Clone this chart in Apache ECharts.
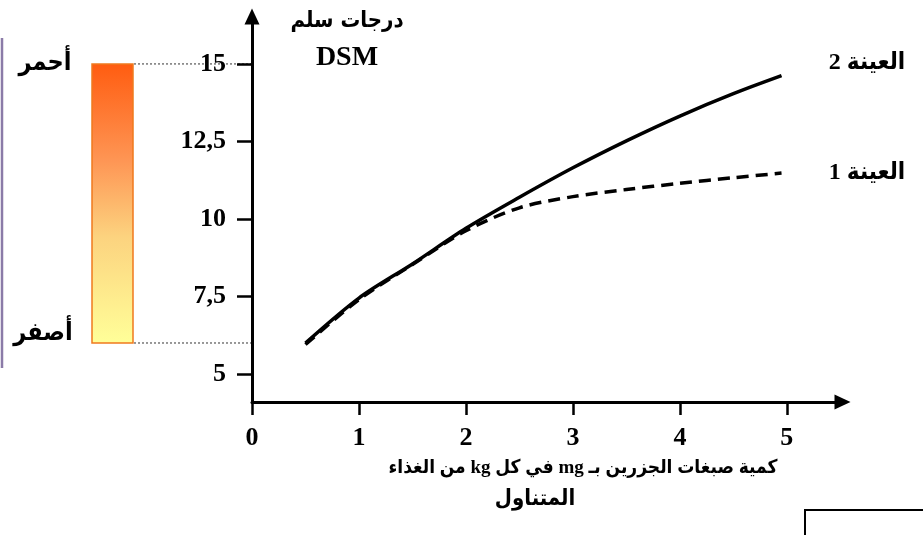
<!DOCTYPE html>
<html>
<head>
<meta charset="utf-8">
<script src="https://cdn.jsdelivr.net/npm/echarts@6/dist/echarts.min.js"></script>
<style>
  html, body { margin: 0; padding: 0; background: #fff; }
  #chart { width: 923px; height: 535px; direction: rtl; }
</style>
</head>
<body>
<div id="chart" dir="rtl"></div>
<script>
// data
const doseMg = [0.5, 1, 1.5, 2, 2.5, 3, 3.5, 4, 4.5, 4.95];
const sample2 = [6.0, 7.45, 8.55, 9.7, 10.7, 11.65, 12.52, 13.32, 14.04, 14.62];
const sample1 = [5.95, 7.4, 8.53, 9.62, 10.36, 10.72, 10.95, 11.15, 11.33, 11.48];
const xTicks = [0, 1, 2, 3, 4, 5];
const yTicks = [5, 7.5, 10, 12.5, 15];
const scaleEnds = [15, 6];            // red end, yellow end of the colour scale
const scaleNames = ['أحمر', 'أصفر'];
const seriesNames = ['العينة 2', 'العينة 1'];

const serif = "'Liberation Serif', 'DejaVu Sans Condensed'";
const arabic = "'DejaVu Sans Condensed', 'DejaVu Sans'";

const chart = echarts.init(document.getElementById('chart'));

chart.setOption({
  animation: false,
  grid: { left: 252, right: 80.5, top: 16.5, bottom: 133 },
  xAxis: {
    type: 'value',
    min: 0,
    max: 5.52,
    splitLine: { show: false },
    axisLine: { lineStyle: { color: '#000', width: 3 }, symbol: ['none', 'triangle'], symbolSize: [15, 16] },
    axisTick: { customValues: xTicks, length: 13, lineStyle: { color: '#000', width: 2.5 } },
    axisLabel: {
      customValues: xTicks, margin: 23, color: '#000',
      fontFamily: serif, fontWeight: 'bold', fontSize: 26
    }
  },
  yAxis: {
    type: 'value',
    min: 4.097,
    max: 16.53,
    splitLine: { show: false },
    axisLine: { lineStyle: { color: '#000', width: 3 }, symbol: ['none', 'triangle'], symbolSize: [15, 16] },
    axisTick: { customValues: yTicks, length: 15, lineStyle: { color: '#000', width: 2.5 } },
    axisLabel: {
      customValues: yTicks, margin: 26, color: '#000',
      fontFamily: serif, fontWeight: 'bold', fontSize: 26,
      formatter: v => String(v).replace('.', ',')
    }
  },
  series: [
    {
      name: seriesNames[0], type: 'line', smooth: 0.3, showSymbol: false,
      data: doseMg.map((x, i) => [x, sample2[i]]),
      lineStyle: { color: '#000', width: 3.5 }
    },
    {
      name: seriesNames[1], type: 'line', smooth: 0.3, showSymbol: false,
      data: doseMg.map((x, i) => [x, sample1[i]]),
      lineStyle: { color: '#000', width: 3.5, type: [12, 7] }
    }
  ]
});

// colour scale beside the y axis, tied to the axis values
const yTop = chart.convertToPixel({ yAxisIndex: 0 }, scaleEnds[0]);
const yBot = chart.convertToPixel({ yAxisIndex: 0 }, scaleEnds[1]);
const axisX = chart.convertToPixel({ xAxisIndex: 0 }, 0);

const boldText = (x, y, text, size, font) => ({
  type: 'text', x: x, y: y,
  style: { text: text, fill: '#000', font: 'bold ' + size + 'px ' + font, align: 'center', verticalAlign: 'middle' }
});

chart.setOption({
  graphic: [
    { type: 'line', shape: { x1: 2, y1: 38, x2: 2, y2: 368 }, style: { stroke: '#8B7BA8', lineWidth: 2.5 } },
    {
      type: 'rect', shape: { x: 92, y: yTop, width: 41, height: yBot - yTop },
      style: {
        fill: new echarts.graphic.LinearGradient(0, 0, 0, 1, [
          { offset: 0, color: '#FF5C10' },
          { offset: 0.35, color: '#FE9655' },
          { offset: 0.62, color: '#FCD37F' },
          { offset: 1, color: '#FFFF99' }
        ]),
        stroke: '#F07A1E', lineWidth: 1.5
      }
    },
    { type: 'line', shape: { x1: 134, y1: yTop, x2: axisX, y2: yTop }, style: { stroke: '#333', lineWidth: 1, lineDash: [2, 2] } },
    { type: 'line', shape: { x1: 134, y1: yBot, x2: axisX, y2: yBot }, style: { stroke: '#333', lineWidth: 1, lineDash: [2, 2] } },
    boldText(45, 63, scaleNames[0], 25, arabic),
    boldText(43, 333, scaleNames[1], 25, arabic),
    boldText(347, 21, 'درجات سلم', 22, arabic),
    boldText(347, 58, 'DSM', 28, serif),
    boldText(867, 63, seriesNames[0], 24, serif),
    boldText(867, 173, seriesNames[1], 24, serif),
    boldText(583, 468, 'كمية صبغات الجزرين بـ mg في كل kg من الغذاء', 19, serif),
    boldText(535, 499, 'المتناول', 22, arabic),
    { type: 'rect', shape: { x: 805, y: 510, width: 200, height: 100 }, style: { fill: 'none', stroke: '#000', lineWidth: 2 } }
  ]
});
</script>
</body>
</html>
